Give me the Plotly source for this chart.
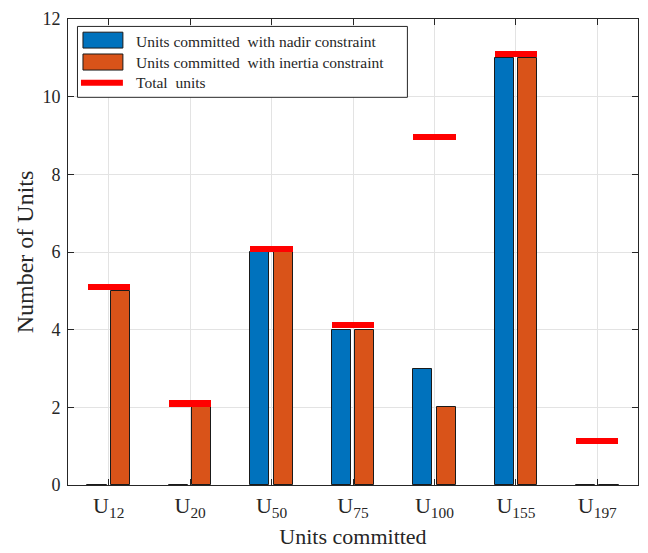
import plotly.graph_objects as go

# ---- data ----
categories = ["U<sub>12</sub>", "U<sub>20</sub>", "U<sub>50</sub>", "U<sub>75</sub>",
              "U<sub>100</sub>", "U<sub>155</sub>", "U<sub>197</sub>"]
nadir_units = [0, 0, 6, 4, 3, 11, 0]
inertia_units = [5, 2, 6, 4, 2, 11, 0]
total_units = [5.1, 2.1, 6.08, 4.12, 8.96, 11.1, 1.14]
series_names = ["Units committed\u00a0 with nadir constraint",
                "Units committed\u00a0 with inertia constraint",
                "Total\u00a0 units"]

positions = list(range(len(categories)))

FONT = "Liberation Serif, Times New Roman, serif"
BLUE = "#0072BD"
ORANGE = "#D95319"
RED = "#FF0000"
EDGE = "#1a1a1a"
AX = "#262626"

W, H = 648, 553
ML, MR, MT, MB = 68, 9, 15, 68
PW, PH = W - ML - MR, H - MT - MB


def px(xp):
    return (xp - ML) / PW


def py(yp):
    return 1 - (yp - MT) / PH


fig = go.Figure()

fig.add_trace(go.Bar(
    x=positions, y=nadir_units, name=series_names[0],
    marker=dict(color=BLUE, line=dict(color=EDGE, width=1)),
    width=0.235, offset=-0.262, showlegend=False,
))
fig.add_trace(go.Bar(
    x=positions, y=inertia_units, name=series_names[1],
    marker=dict(color=ORANGE, line=dict(color=EDGE, width=1)),
    width=0.235, offset=0.027, showlegend=False,
))
# total-unit markers: thin bars centred on the totals
thick = 0.16
fig.add_trace(go.Bar(
    x=positions, y=[thick] * len(total_units),
    base=[t - thick / 2 for t in total_units],
    marker=dict(color=RED, line=dict(width=0)),
    width=0.52, offset=-0.26, showlegend=False, name="Total units",
))

axis_common = dict(
    showline=True, linecolor=AX, linewidth=1, mirror="ticks",
    ticks="inside", ticklen=6, tickcolor=AX,
    showgrid=True, gridcolor="#e3e3e3", gridwidth=1, zeroline=False,
)

# ---- legend drawn in the style of the reference ----
shapes = [
    dict(type="rect", xref="paper", yref="paper", x0=px(77.5), x1=px(408), y0=py(94), y1=py(22.5),
         line=dict(color=AX, width=1), fillcolor="white", layer="above"),
    dict(type="rect", xref="paper", yref="paper", x0=px(83), x1=px(123), y0=py(44.3), y1=py(28.3),
         line=dict(color=EDGE, width=1), fillcolor=BLUE, layer="above"),
    dict(type="rect", xref="paper", yref="paper", x0=px(83), x1=px(123), y0=py(66.5), y1=py(50.3),
         line=dict(color=EDGE, width=1), fillcolor=ORANGE, layer="above"),
    dict(type="rect", xref="paper", yref="paper", x0=px(81), x1=px(123), y0=py(82.3), y1=py(76.3),
         line=dict(width=0), fillcolor=RED, layer="above"),
]
legend_rows = [37.5, 58.8, 79]
annotations = [
    dict(text=name, xref="paper", yref="paper", x=px(134), y=py(yr),
         xanchor="left", yanchor="middle", showarrow=False,
         font=dict(size=15.5, family=FONT, color=AX))
    for name, yr in zip(series_names, legend_rows)
]

fig.update_layout(
    width=W, height=H,
    margin=dict(l=ML, r=MR, t=MT, b=MB),
    paper_bgcolor="white", plot_bgcolor="white",
    barmode="overlay", bargap=0,
    showlegend=False,
    font=dict(family=FONT, color=AX, size=18),
    xaxis=dict(
        range=[-0.5, 6.5], tickmode="array", tickvals=positions, ticktext=categories,
        tickfont=dict(size=22, family=FONT, color=AX), ticklabelstandoff=1,
        title=dict(text="Units committed", font=dict(size=22, family=FONT, color=AX), standoff=8),
        **axis_common,
    ),
    yaxis=dict(
        range=[0, 12], tickmode="array", tickvals=[0, 2, 4, 6, 8, 10, 12],
        tickfont=dict(size=18, family=FONT, color=AX), ticklabelstandoff=3,
        title=dict(text="Number of Units", font=dict(size=24, family=FONT, color=AX), standoff=2),
        **axis_common,
    ),
    shapes=shapes,
    annotations=annotations,
)

fig.write_html("out.html")
